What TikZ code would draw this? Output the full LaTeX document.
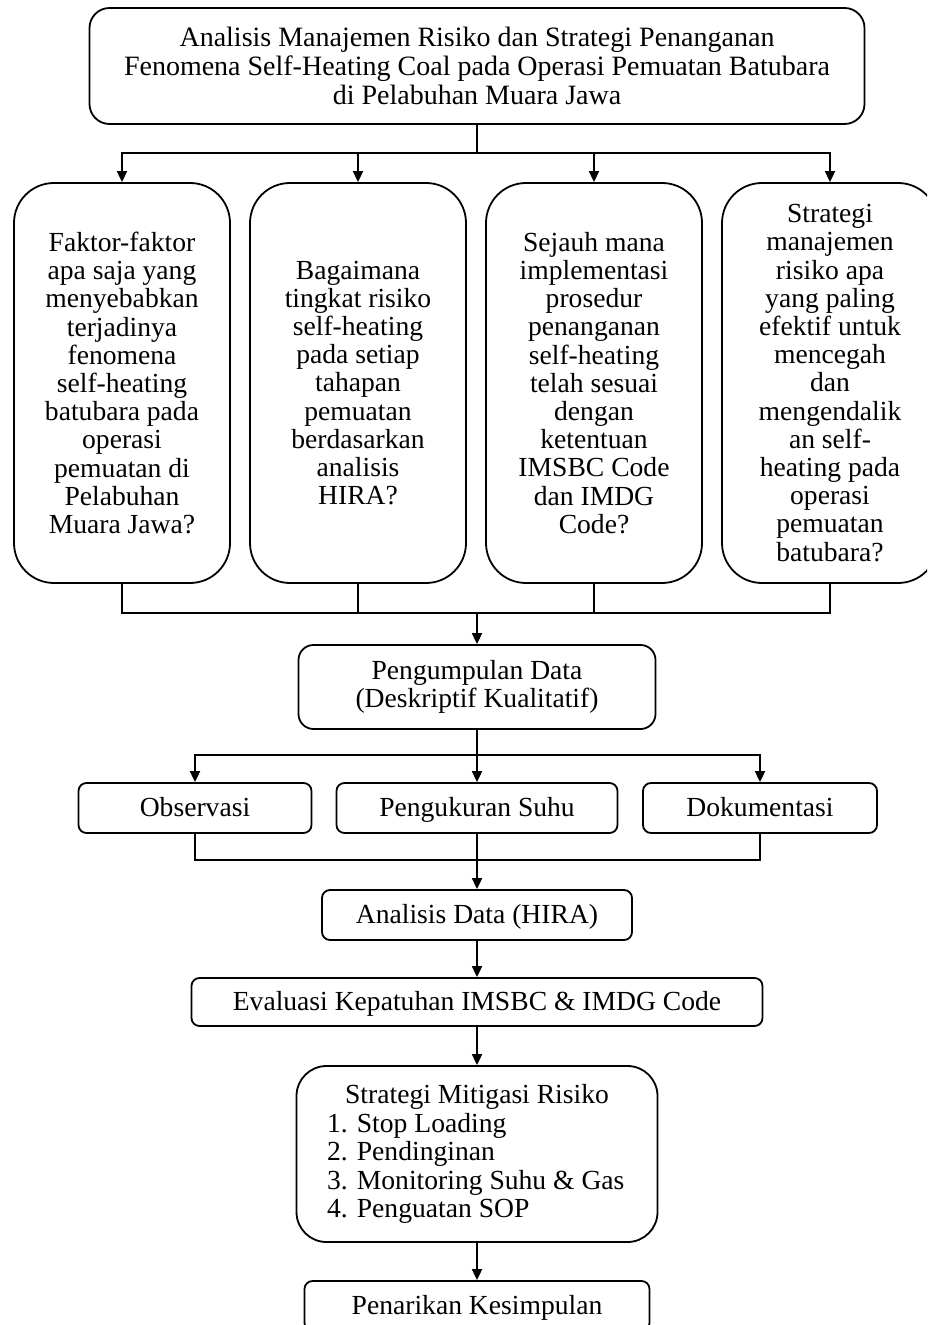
\documentclass[tikz,border=0pt]{standalone}
\usepackage{fontspec}
\setmainfont{Liberation Serif}
\usepackage{tikz}
\usetikzlibrary{arrows.meta}
\newcommand{\huruf}{\fontsize{13.8}{14.1}\selectfont}
\newcommand{\lebar}{108pt}
\newcommand{\tinggi}{200pt}
\tikzstyle{garis}=[line width=0.9pt]
\tikzstyle{kotak}=[draw, garis, align=center, inner sep=0pt, font=\huruf]
\tikzstyle{tanya}=[kotak, rounded corners=20pt, minimum width=\lebar, minimum height=\tinggi]
\tikzstyle{kecil}=[kotak, rounded corners=4pt, minimum height=25pt, text height=10.5pt, text depth=2.5pt]
\tikzstyle{panah}=[garis, -{Triangle[length=5.5pt,width=5pt]}]

\begin{document}
\begin{tikzpicture}[x=0.5pt, y=-0.5pt]

\path[use as bounding box, clip] (0,0) rectangle (927,1325);

\node[kotak, rounded corners=10pt, minimum width=387.5pt, minimum height=58pt,
      font=\fontsize{14}{14.3}\selectfont] (judul) at (477,66)
  {Analisis Manajemen Risiko dan Strategi Penanganan\\
   Fenomena Self-Heating Coal pada Operasi Pemuatan Batubara\\
   di Pelabuhan Muara Jawa};

\node[tanya] (q1) at (122,383)
  {Faktor-faktor\\ apa saja yang\\ menyebabkan\\ terjadinya\\ fenomena\\
   self-heating\\ batubara pada\\ operasi\\ pemuatan di\\ Pelabuhan\\ Muara Jawa?};
\node[tanya] (q2) at (358,383)
  {Bagaimana\\ tingkat risiko\\ self-heating\\ pada setiap\\ tahapan\\
   pemuatan\\ berdasarkan\\ analisis\\ HIRA?};
\node[tanya] (q3) at (594,383)
  {Sejauh mana\\ implementasi\\ prosedur\\ penanganan\\ self-heating\\
   telah sesuai\\ dengan\\ ketentuan\\ IMSBC Code\\ dan IMDG\\ Code?};
\node[tanya] (q4) at (830,383)
  {Strategi\\ manajemen\\ risiko apa\\ yang paling\\ efektif untuk\\ mencegah\\
   dan\\ mengendalik\\ an self-\\ heating pada\\ operasi\\ pemuatan\\ batubara?};

\node[kotak, rounded corners=7.5pt, minimum width=178.5pt, minimum height=42pt] (kumpul)
  at (477,687) {Pengumpulan Data\\ (Deskriptif Kualitatif)};

\node[kecil, minimum width=116.5pt] (obs) at (195,808) {Observasi};
\node[kecil, minimum width=140.5pt] (ukur) at (477,808) {Pengukuran Suhu};
\node[kecil, minimum width=117pt] (dok) at (760,808) {Dokumentasi};

\node[kecil, minimum width=155pt] (analisis) at (477,915) {Analisis Data (HIRA)};
\node[kecil, minimum width=285.5pt, minimum height=24pt] (evaluasi) at (477,1002)
  {Evaluasi Kepatuhan IMSBC \& IMDG Code};

\node[kotak, rounded corners=15pt, minimum width=180.5pt, minimum height=88pt,
      align=left, font=\fontsize{13.8}{14.25}\selectfont] (mitigasi) at (477,1154)
  {\makebox[150pt]{Strategi Mitigasi Risiko}\\
   1. Stop Loading\\ 2. Pendinginan\\ 3. Monitoring Suhu \& Gas\\
   4. Penguatan SOP};

\node[kecil, minimum width=172.5pt] (simpul) at (477,1306) {Penarikan Kesimpulan};

\coordinate (cabang1) at (477,153);
\coordinate (gabung1) at (477,613);
\coordinate (cabang2) at (477,755);
\coordinate (gabung2) at (477,860);

\draw[garis] (judul) -- (cabang1);
\foreach \n in {q1,q2,q3,q4}
  \draw[panah] (cabang1) -| (\n.north);
\foreach \n in {q1,q2,q3,q4}
  \draw[garis] (\n.south) |- (gabung1);
\draw[panah] (gabung1) -- (kumpul);

\draw[garis] (kumpul) -- (cabang2);
\foreach \n in {obs,ukur,dok}
  \draw[panah] (cabang2) -| (\n.north);
\foreach \n in {obs,ukur,dok}
  \draw[garis] (\n.south) |- (gabung2);
\draw[panah] (gabung2) -- (analisis);

\draw[panah] (analisis) -- (evaluasi);
\draw[panah] (evaluasi) -- (mitigasi);
\draw[panah] (mitigasi) -- (simpul);

\end{tikzpicture}
\end{document}
